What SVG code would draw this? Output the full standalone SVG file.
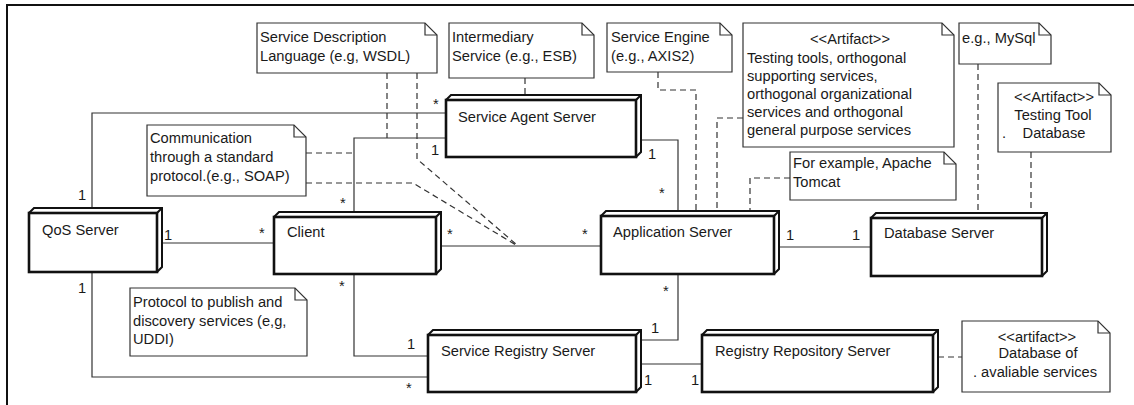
<svg xmlns="http://www.w3.org/2000/svg" width="1134" height="405" viewBox="0 0 1134 405">
  <style>
    text { font-family: "Liberation Sans", Arial, sans-serif; font-size: 14.7px; fill: #1a1a1a; }
    .mid { text-anchor: middle; }
    .frame { stroke: #111; stroke-width: 2; fill: none; }
    .box-back { fill: #fff; stroke: #111; stroke-width: 2; stroke-linejoin: miter; }
    .box-front { fill: #fff; stroke: #111; stroke-width: 2.6; }
    .note { fill: #fff; stroke: #333; stroke-width: 1.2; }
    .fold { fill: none; stroke: #333; stroke-width: 1.2; }
    .assoc { fill: none; stroke: #333; stroke-width: 1.2; }
    .dep { fill: none; stroke: #333; stroke-width: 1.2; stroke-dasharray: 6 4; }
  </style>

  <rect width="1134" height="405" fill="#fff"/>
  <!-- frame -->
  <path class="frame" d="M6,5 H1134 M7,5 V405"/>

  <!-- connectors -->
  <g id="connectors">
    <!-- associations -->
    <path class="assoc" d="M92,213 V113 H446"/>
    <path class="assoc" d="M354,217 V138 H446"/>
    <path class="assoc" d="M641,140 H678 V216"/>
    <path class="assoc" d="M157,243 H274"/>
    <path class="assoc" d="M441,246 H601"/>
    <path class="assoc" d="M779,247 H871"/>
    <path class="assoc" d="M354,274 V356 H428"/>
    <path class="assoc" d="M92,272 V377 H428"/>
    <path class="assoc" d="M678,274 V340 H641"/>
    <path class="assoc" d="M641,364 H702"/>

    <!-- note anchors -->
    <path class="dep" d="M387,73 V138"/>
    <path class="dep" d="M417,73 V159 L517,245"/>
    <path class="dep" d="M306,153 H354"/>
    <path class="dep" d="M306,183 H413 L516,245"/>
    <path class="dep" d="M525,78 V96"/>
    <path class="dep" d="M658,72 V90 H696 V216"/>
    <path class="dep" d="M743,118 H717 V216"/>
    <path class="dep" d="M790,178 H750 V216"/>
    <path class="dep" d="M978,64 V218"/>
    <path class="dep" d="M1031,152 V218"/>
    <path class="dep" d="M938,357 H962"/>

    <!-- multiplicities -->
    <text x="78" y="200">1</text>
    <text x="433" y="109">*</text>
    <text x="431" y="155">1</text>
    <text x="340" y="208">*</text>
    <text x="648" y="159">1</text>
    <text x="659" y="198">*</text>
    <text x="164" y="240">1</text>
    <text x="259" y="238">*</text>
    <text x="447" y="239">*</text>
    <text x="582" y="239">*</text>
    <text x="786" y="240">1</text>
    <text x="852" y="240">1</text>
    <text x="339" y="291">*</text>
    <text x="78" y="293">1</text>
    <text x="407" y="349">1</text>
    <text x="406" y="393">*</text>
    <text x="663" y="296">*</text>
    <text x="651" y="333">1</text>
    <text x="644" y="385">1</text>
    <text x="691" y="385">1</text>
  </g>

  <!-- nodes: front face x,y,w,h with depth 5 -->
  <g id="qos-server">
    <path class="box-back" d="M29,213 L34,208 H162 V267 L157,272"/>
    <path class="box-back" d="M157,213 L162,208"/>
    <rect class="box-front" x="29" y="213" width="128" height="59"/>
    <text x="42" y="235">QoS Server</text>
  </g>

  <g id="client">
    <path class="box-back" d="M274,217 L279,212 H441 V269 L436,274"/>
    <path class="box-back" d="M436,217 L441,212"/>
    <rect class="box-front" x="274" y="217" width="162" height="57"/>
    <text x="287" y="237">Client</text>
  </g>

  <g id="application-server">
    <path class="box-back" d="M601,216 L606,211 H779 V269 L774,274"/>
    <path class="box-back" d="M774,216 L779,211"/>
    <rect class="box-front" x="601" y="216" width="173" height="58"/>
    <text x="613" y="237">Application Server</text>
  </g>

  <g id="database-server">
    <path class="box-back" d="M871,218 L876,213 H1047 V271 L1042,276"/>
    <path class="box-back" d="M1042,218 L1047,213"/>
    <rect class="box-front" x="871" y="218" width="171" height="58"/>
    <text x="884" y="238">Database Server</text>
  </g>

  <g id="service-agent-server">
    <path class="box-back" d="M446,100 L451,95 H641 V152 L636,157"/>
    <path class="box-back" d="M636,100 L641,95"/>
    <rect class="box-front" x="446" y="100" width="190" height="57"/>
    <text x="458" y="122">Service Agent Server</text>
  </g>

  <g id="service-registry-server">
    <path class="box-back" d="M428,335 L433,330 H641 V387 L636,392"/>
    <path class="box-back" d="M636,335 L641,330"/>
    <rect class="box-front" x="428" y="335" width="208" height="57"/>
    <text x="441" y="356">Service Registry Server</text>
  </g>

  <g id="registry-repository-server">
    <path class="box-back" d="M702,335 L707,330 H938 V387 L933,392"/>
    <path class="box-back" d="M933,335 L938,330"/>
    <rect class="box-front" x="702" y="335" width="231" height="57"/>
    <text x="715" y="356">Registry Repository Server</text>
  </g>

  <!-- notes -->
  <g id="note-wsdl">
    <path class="note" d="M257,23 H425 L437,35 V73 H257 Z"/>
    <path class="fold" d="M425,23 V35 H437"/>
    <text x="260" y="42">Service Description</text>
    <text x="260" y="61">Language (e.g, WSDL)</text>
  </g>

  <g id="note-esb">
    <path class="note" d="M449,23 H582 L594,35 V78 H449 Z"/>
    <path class="fold" d="M582,23 V35 H594"/>
    <text x="452" y="42">Intermediary</text>
    <text x="452" y="61">Service (e.g., ESB)</text>
  </g>

  <g id="note-engine">
    <path class="note" d="M607,23 H720 L732,35 V72 H607 Z"/>
    <path class="fold" d="M720,23 V35 H732"/>
    <text x="611" y="42">Service Engine</text>
    <text x="611" y="61">(e.g., AXIS2)</text>
  </g>

  <g id="note-testing-tools">
    <path class="note" d="M743,23 H942 L954,35 V147 H743 Z"/>
    <path class="fold" d="M942,23 V35 H954"/>
    <text class="mid" x="850" y="44">&lt;&lt;Artifact&gt;&gt;</text>
    <text x="747" y="63">Testing tools, orthogonal</text>
    <text x="747" y="81">supporting services,</text>
    <text x="747" y="99">orthogonal organizational</text>
    <text x="747" y="117">services and orthogonal</text>
    <text x="747" y="135">general purpose services</text>
  </g>

  <g id="note-mysql">
    <path class="note" d="M959,23 H1039 L1051,35 V64 H959 Z"/>
    <path class="fold" d="M1039,23 V35 H1051"/>
    <text x="962" y="43">e.g., MySql</text>
  </g>

  <g id="note-testing-db">
    <path class="note" d="M998,83 H1099 L1111,95 V152 H998 Z"/>
    <path class="fold" d="M1099,83 V95 H1111"/>
    <text class="mid" x="1054" y="102">&lt;&lt;Artifact&gt;&gt;</text>
    <text class="mid" x="1053" y="120">Testing Tool</text>
    <text x="1002" y="138">.</text>
    <text class="mid" x="1054" y="138">Database</text>
  </g>

  <g id="note-tomcat">
    <path class="note" d="M790,152 H944 L956,164 V200 H790 Z"/>
    <path class="fold" d="M944,152 V164 H956"/>
    <text x="793" y="168">For example, Apache</text>
    <text x="793" y="187">Tomcat</text>
  </g>

  <g id="note-soap">
    <path class="note" d="M147,125 H294 L306,137 V196 H147 Z"/>
    <path class="fold" d="M294,125 V137 H306"/>
    <text x="150" y="143">Communication</text>
    <text x="150" y="162">through a standard</text>
    <text x="150" y="181">protocol.(e.g., SOAP)</text>
  </g>

  <g id="note-uddi">
    <path class="note" d="M130,288 H295 L307,300 V356 H130 Z"/>
    <path class="fold" d="M295,288 V300 H307"/>
    <text x="133" y="307">Protocol to publish and</text>
    <text x="133" y="326">discovery services (e,g,</text>
    <text x="133" y="344">UDDI)</text>
  </g>

  <g id="note-available-services">
    <path class="note" d="M962,321 H1098 L1110,333 V392 H962 Z"/>
    <path class="fold" d="M1098,321 V333 H1110"/>
    <text class="mid" x="1037" y="342">&lt;&lt;artifact&gt;&gt;</text>
    <text class="mid" x="1038" y="358">Database of</text>
    <text class="mid" x="1035" y="377">. avaliable services</text>
  </g>
</svg>
